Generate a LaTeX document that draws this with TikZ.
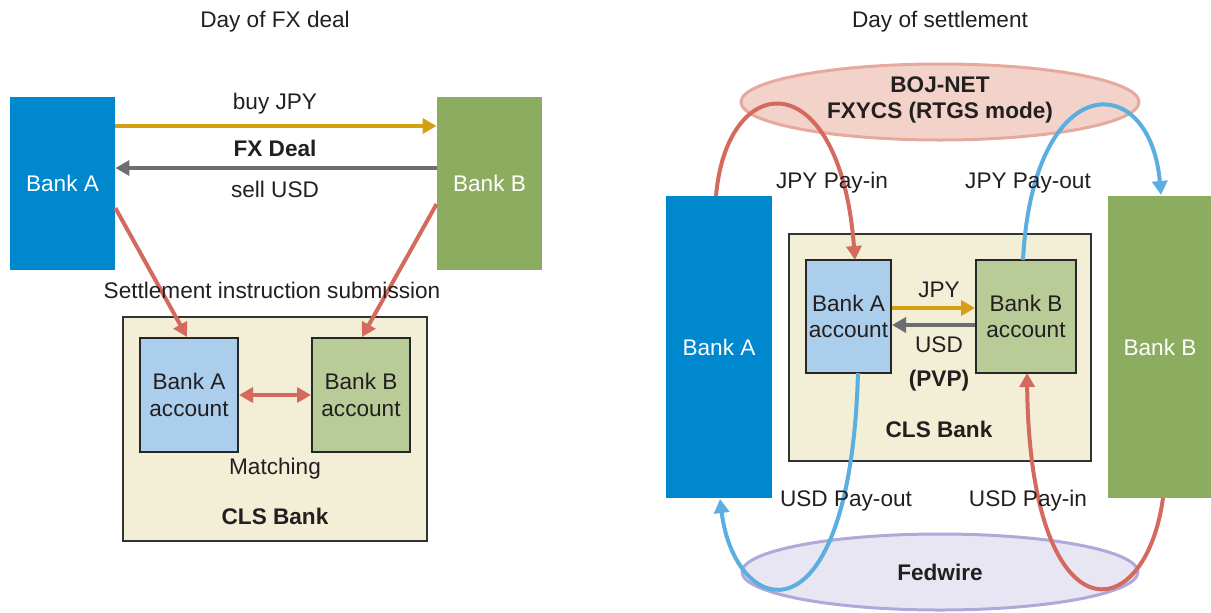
\documentclass[tikz,border=0pt]{standalone}
\usepackage{fontspec}
\setmainfont{Liberation Sans}
\usetikzlibrary{arrows.meta,shapes.geometric}
\definecolor{bankblue}{HTML}{0088CE}
\definecolor{bankgreen}{HTML}{8CAD60}
\definecolor{acctblue}{HTML}{ABCEEC}
\definecolor{acctgreen}{HTML}{B9CC98}
\definecolor{clsfill}{HTML}{F3EED6}
\definecolor{redarr}{HTML}{D46A5E}
\definecolor{bluearr}{HTML}{5AAEE0}
\definecolor{goldarr}{HTML}{D49F12}
\definecolor{grayarr}{HTML}{6D6E71}
\definecolor{txt}{HTML}{231F20}
\definecolor{bojfill}{HTML}{F2D2C9}
\definecolor{bojdraw}{HTML}{E6A99E}
\definecolor{fedfill}{HTML}{E8E6F2}
\definecolor{feddraw}{HTML}{B1A7D8}
\tikzset{
  x=0.5pt, y=-0.5pt,
  every node/.style={font=\fontsize{11.3}{13.2}\selectfont, text=txt},
  lbl/.style={inner sep=0pt},
  blbl/.style={inner sep=0pt, font=\fontsize{11.3}{13.2}\selectfont\bfseries},
  acctbox/.style={draw=black!85, line width=1pt, inner sep=0pt, align=center},
  clsbox/.style={draw=black!80, fill=clsfill, line width=0.6pt, inner sep=0pt},
  arr/.style={line width=2pt, -{Triangle[length=7pt,width=7.5pt]}},
  darr/.style={line width=2pt, {Triangle[length=7pt,width=7.5pt]}-{Triangle[length=7pt,width=7.5pt]}},
}
\begin{document}
\begin{tikzpicture}
\useasboundingbox (0,0) rectangle (1211,612);

% ---------------- left panel ----------------
\node[lbl] (t1) at (275,22) {Day of FX deal};

\node[fill=bankblue, inner sep=0pt, minimum width=52.5pt, minimum height=86.5pt, text=white] (lA) at (62.5,183.5) {Bank A};
\node[fill=bankgreen, inner sep=0pt, minimum width=52.5pt, minimum height=86.5pt, text=white] (lB) at (489.5,183.5) {Bank B};

\node[clsbox, minimum width=152pt, minimum height=112pt] (lC) at (275,429) {};
\node[acctbox, fill=acctblue, minimum width=49pt, minimum height=57pt] (lAa) at (189,395) {Bank A\\account};
\node[acctbox, fill=acctgreen, minimum width=49pt, minimum height=57pt] (lBa) at (361,395) {Bank B\\account};

\draw[arr, goldarr] (lA.east |- 0,126) -- (lB.west |- 0,126);
\draw[arr, grayarr] (lB.west |- 0,168) -- (lA.east |- 0,168);
\node[lbl] at (275,104) {buy JPY};
\node[blbl] at (275,148) {FX Deal};
\node[lbl] at (275,189) {sell USD};

\draw[arr, redarr] (lA.east |- 0,208) -- (187,337);
\draw[arr, redarr] (lB.west |- 0,204) -- (362,337);
\node[lbl] at (272,290) {Settlement instruction submission};

\draw[darr, redarr] (lAa.east) -- (lBa.west);
\node[lbl] at (275,469) {Matching};
\node[blbl] at (275,516) {CLS Bank};

% ---------------- right panel ----------------
\node[lbl] (t2) at (940,22) {Day of settlement};

\node[ellipse, fill=bojfill, draw=bojdraw, line width=1.5pt, minimum width=199pt, minimum height=38pt] (boj) at (940,102) {};
\node[blbl, align=center] at (940,100) {BOJ-NET\\FXYCS (RTGS mode)};

\node[ellipse, fill=fedfill, draw=feddraw, line width=1.5pt, minimum width=198pt, minimum height=38pt] (fed) at (940,572) {};

\node[fill=bankblue, inner sep=0pt, minimum width=53pt, minimum height=151pt, text=white] (rA) at (719,347) {Bank A};
\node[fill=bankgreen, inner sep=0pt, minimum width=52pt, minimum height=151pt, text=white] (rB) at (1160,347) {Bank B};

\node[clsbox, minimum width=151pt, minimum height=113.5pt] (rC) at (940,347.5) {};
\node[acctbox, fill=acctblue, minimum width=42.5pt, minimum height=56.5pt] (rAa) at (848.5,316.5) {Bank A\\account};
\node[acctbox, fill=acctgreen, minimum width=50pt, minimum height=56.5pt] (rBa) at (1026,316.5) {Bank B\\account};

\draw[arr, goldarr] (rAa.east |- 0,308) -- (rBa.west |- 0,308);
\draw[arr, grayarr] (rBa.west |- 0,325) -- (rAa.east |- 0,325);
\node[lbl] at (939,290) {JPY};
\node[lbl] at (939,345) {USD};
\node[blbl] at (939,381) {(PVP)};
\node[blbl] at (939,429) {CLS Bank};

\node[blbl] at (940,572) {Fedwire};

% curves
\coordinate (a1) at (716,196);
\coordinate (a2) at (855,260);
\draw[arr, redarr] (a1) .. controls (727,68) and (840,62) .. (a2);

\coordinate (b1) at (1023,260);
\coordinate (b2) at (1161,195);
\draw[arr, bluearr] (b1) .. controls (1033,68) and (1150,68) .. (b2);

\coordinate (c1) at (858,373);
\coordinate (c2) at (720,499);
\draw[arr, bluearr] (c1) .. controls (850,650) and (735,620) .. (c2);

\coordinate (d1) at (1163,498);
\coordinate (d2) at (1027,373);
\draw[arr, redarr] (d1) .. controls (1145,630) and (1030,640) .. (d2);

\node[lbl] at (832,183) {JPY Pay-in};
\node[lbl] at (1028,183) {JPY Pay-out};
\node[lbl] at (846,501) {USD Pay-out};
\node[lbl] at (1028,501) {USD Pay-in};
\end{tikzpicture}
\end{document}
